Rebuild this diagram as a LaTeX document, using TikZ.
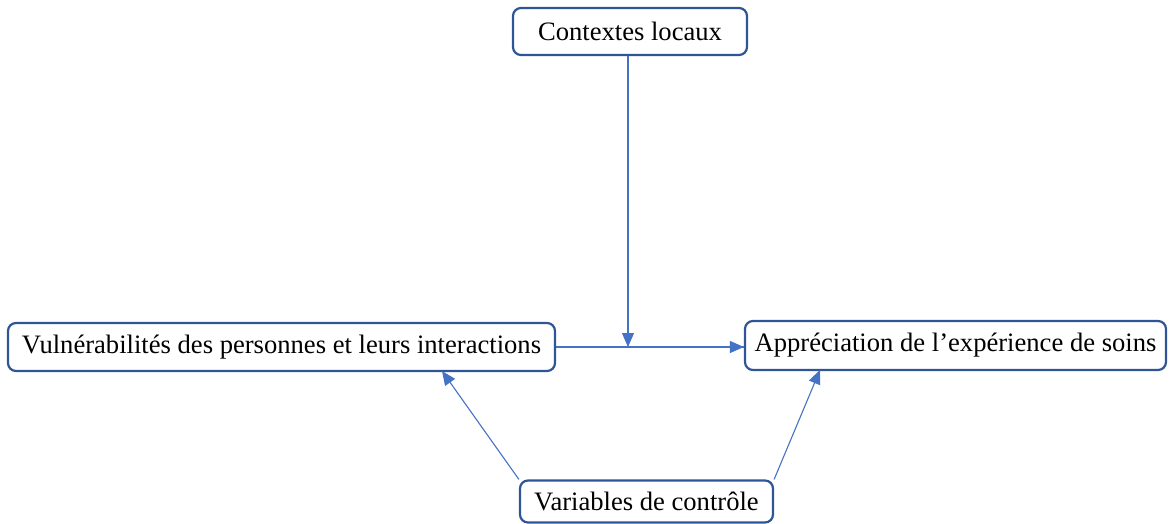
\documentclass[tikz,border=0pt]{standalone}
\usepackage{fontspec}
\setmainfont{Liberation Serif}
\usetikzlibrary{arrows.meta}
\definecolor{boxblue}{HTML}{2F5597}
\definecolor{linkblue}{HTML}{4472C4}
\tikzset{
  box/.style={draw=boxblue, line width=2.2pt, rounded corners=8pt, fill=white,
    inner sep=0pt, font=\fontsize{26.6}{30}\selectfont, text=black},
  link/.style={draw=linkblue, line width=1.1pt,
    -{Triangle[length=14pt,width=12pt,fill=linkblue]}},
  plain/.style={draw=linkblue, line width=1.1pt}
}
\begin{document}
\begin{tikzpicture}[x=1pt,y=-1pt]
\useasboundingbox (0,0) rectangle (1171,524);
% boxes
\node[box, minimum width=234pt, minimum height=47pt] (ctx) at (630,31.5) {Contextes locaux};
\node[box, minimum width=547pt, minimum height=48pt] (vul) at (281.5,347) {Vulnérabilités des personnes et leurs interactions};
\node[box, minimum width=421pt, minimum height=49pt] (app) at (955.5,345.5) {Appréciation de l’expérience de soins};
\node[box, minimum width=253pt, minimum height=42pt] (ctl) at (646.5,501.5) {Variables de contrôle};
% junction on the main link
\coordinate (mid) at (628,347);
\coordinate (vulin) at (442,371);
\coordinate (appin) at (820,370);
% connectors
\draw[plain] (vul.east) -- (vul.east -| app.west);
\draw[link] (mid -| vul.east) -- (app.west |- mid);
\draw[link] (ctx.south -| mid) -- (mid);
\draw[link] (ctl.north west) -- (vulin);
\draw[link] (ctl.north east) -- (appin);
\end{tikzpicture}
\end{document}
